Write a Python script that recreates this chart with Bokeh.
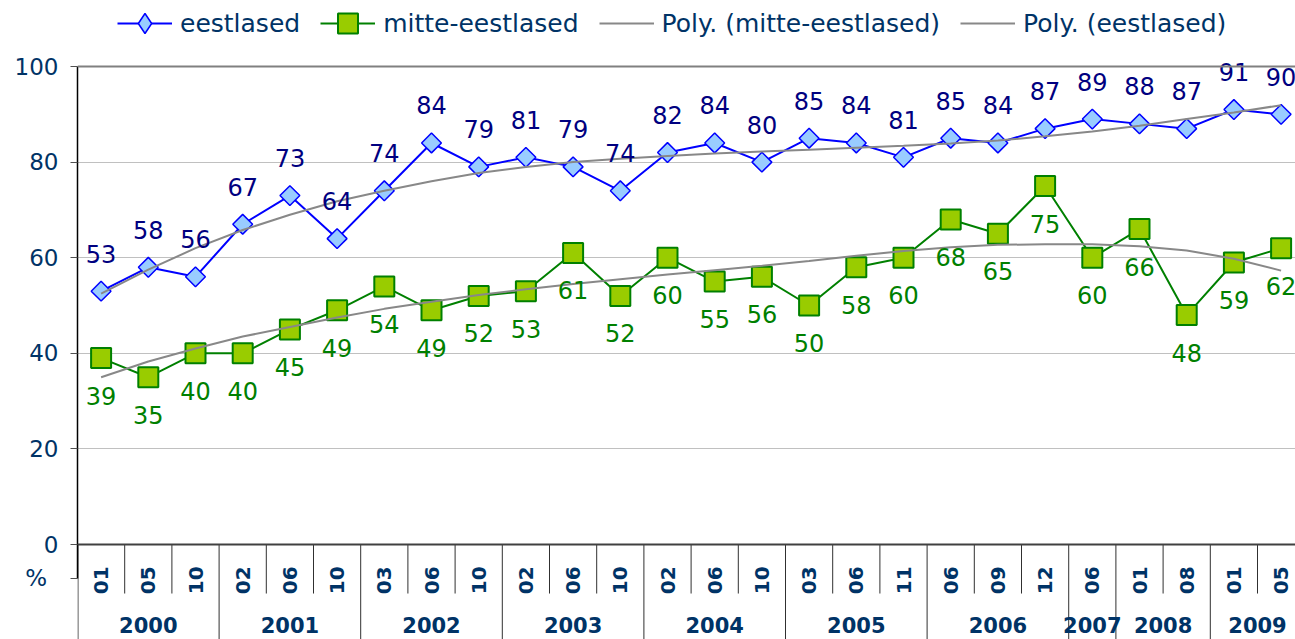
import numpy as np
from bokeh.plotting import figure
from bokeh.models import (ColumnDataSource, Range1d, FixedTicker, Span, Legend, LegendItem)
from bokeh.core.properties import value
from bokeh.embed import file_html
from bokeh.resources import INLINE

# ---------------- data ----------------
years = ["2000", "2001", "2002", "2003", "2004", "2005", "2006", "2007", "2008", "2009"]
months_by_year = [
    ["01", "05", "10"],
    ["02", "06", "10"],
    ["03", "06", "10"],
    ["02", "06", "10"],
    ["02", "06", "10"],
    ["03", "06", "11"],
    ["06", "09", "12"],
    ["06"],
    ["01", "08"],
    ["01", "05"],
]
eestlased = [53, 58, 56, 67, 73, 64, 74, 84, 79, 81, 79, 74, 82, 84, 80, 85, 84, 81,
             85, 84, 87, 89, 88, 87, 91, 90]
mitte_eestlased = [39, 35, 40, 40, 45, 49, 54, 49, 52, 53, 61, 52, 60, 55, 56, 50, 58, 60,
                   68, 65, 75, 60, 66, 48, 59, 62]
# trend lines
poly_eestlased = [52.5, 57.5, 62.0, 65.8, 69.0, 71.8, 74.0, 76.0, 77.7, 79.0, 80.0, 80.7,
                  81.3, 81.8, 82.2, 82.6, 83.0, 83.4, 83.9, 84.5, 85.4, 86.4, 87.6, 89.0,
                  90.4, 91.9]
poly_mitte = [35.0, 38.3, 41.0, 43.5, 45.5, 47.5, 49.3, 50.8, 52.2, 53.4, 54.5, 55.5,
              56.5, 57.4, 58.3, 59.3, 60.4, 61.4, 62.2, 62.7, 62.8, 62.8, 62.4, 61.5,
              59.8, 57.3]
y_ticks = [0, 20, 40, 60, 80, 100]
unit_label = "%"
UNIT_POS = -7.1   # where the "%" sits on the value axis (beside the month row)

FONT = "DejaVu Sans"
NAVY = "#003366"

# ---------------- derived category structure ----------------
month_labels = [m for ms in months_by_year for m in ms]
idx = list(range(len(month_labels)))
group_sizes = [len(ms) for ms in months_by_year]
group_ends = np.cumsum(group_sizes)
group_starts = group_ends - np.array(group_sizes)
year_centers = [(s + e - 1) / 2 for s, e in zip(group_starts, group_ends)]
year_bounds = set(float(e) - 0.5 for e in group_ends[:-1])

Y0, Y1 = -19.87, 113.81
p = figure(width=1295, height=639, output_backend="svg", toolbar_location=None,
           x_range=Range1d(-0.5, 25.305), y_range=Range1d(Y0, Y1),
           x_axis_location=None,
           min_border_left=77, min_border_right=0, min_border_top=0, min_border_bottom=0,
           outline_line_color=None)
p.xgrid.visible = False

ax = p.yaxis[0]
ax.bounds = (UNIT_POS, 100)
ax.ticker = FixedTicker(ticks=[UNIT_POS] + y_ticks, minor_ticks=[])
ax.major_label_overrides = {UNIT_POS: unit_label + "\u2002"}
ax.major_tick_out = 7
ax.major_tick_in = 0
ax.minor_tick_out = 0
ax.minor_tick_in = 0
ax.axis_line_color = "black"
ax.axis_line_width = 1.5
ax.major_tick_line_color = "#505050"
ax.major_label_text_font = FONT
ax.major_label_text_font_size = "23px"
ax.major_label_text_color = NAVY
ax.major_label_standoff = 12

p.ygrid.ticker = FixedTicker(ticks=y_ticks[1:-1], minor_ticks=[])
p.ygrid.grid_line_color = "#c0c0c0"
p.ygrid.grid_line_width = 1

p.add_layout(Span(location=100, dimension="width", line_color="#808080", line_width=2))
p.add_layout(Span(location=0, dimension="width", line_color="#404040", line_width=2))

# category separators
sx, sy0, sy1 = [], [], []
sx.append(-0.49); sy0.append(0); sy1.append(Y0)
for i in range(len(month_labels) - 1):
    b = i + 0.5
    sx.append(b)
    sy0.append(0)
    sy1.append(Y0 if b in year_bounds else -10.25)
p.segment(x0=sx, y0=sy0, x1=sx, y1=sy1, line_color="#303030", line_width=1)

# category labels
p.text(x=idx, y=[-7.5] * len(idx), text=month_labels, angle=np.pi / 2,
       text_align="center", text_baseline="middle", text_font=value(FONT),
       text_font_style="bold", text_font_size="20px", text_color=NAVY)
p.text(x=year_centers, y=[-16.9] * len(years), text=years,
       text_align="center", text_baseline="middle", text_font=value(FONT),
       text_font_style="bold", text_font_size="21px", text_color=NAVY)

src = ColumnDataSource(dict(x=idx, e=eestlased, m=mitte_eestlased,
                            pe=poly_eestlased, pm=poly_mitte,
                            el=[str(v) for v in eestlased],
                            ml=[str(v) for v in mitte_eestlased]))

g_line = p.line("x", "m", source=src, line_color="#008000", line_width=2)
g_mark = p.scatter("x", "m", source=src, marker="square", size=20,
                   fill_color="#99cc00", line_color="#008000", line_width=2)
b_line = p.line("x", "e", source=src, line_color="#0000ff", line_width=2)
b_mark = p.scatter("x", "e", source=src, marker="square", angle=np.pi / 4, size=14,
                   fill_color="#99ccff", line_color="#0000ff", line_width=1.5)
t_m = p.line("x", "pm", source=src, line_color="#888888", line_width=2)
t_e = p.line("x", "pe", source=src, line_color="#888888", line_width=2)

p.text("x", "e", text="el", source=src, y_offset=-37.5, text_align="center",
       text_baseline="middle", text_font=value(FONT), text_font_size="24px",
       text_color="#000080")
p.text("x", "m", text="ml", source=src, y_offset=37.5, text_align="center",
       text_baseline="middle", text_font=value(FONT), text_font_size="24px",
       text_color="#008000")

# legend-only diamond: one missing (NaN) point, so nothing is drawn in the plot
leg_src = ColumnDataSource(dict(x=[np.nan], y=[np.nan]))
b_leg = p.scatter("x", "y", source=leg_src, marker="diamond", size=20,
                  fill_color="#99ccff", line_color="#0000ff", line_width=1.5)

legend = Legend(items=[
    LegendItem(label="eestlased", renderers=[b_line, b_leg]),
    LegendItem(label="mitte-eestlased", renderers=[g_line, g_mark]),
    LegendItem(label="Poly. (mitte-eestlased)", renderers=[t_m]),
    LegendItem(label="Poly. (eestlased)", renderers=[t_e]),
], orientation="horizontal", location=(40, 591), glyph_width=55, glyph_height=50,
    label_height=50, label_standoff=8, spacing=20, padding=0, margin=0,
    border_line_color=None, background_fill_alpha=0,
    label_text_font=FONT, label_text_font_size="25px", label_text_color=NAVY)
p.add_layout(legend)

open("out.html", "w").write(file_html(p, INLINE))
